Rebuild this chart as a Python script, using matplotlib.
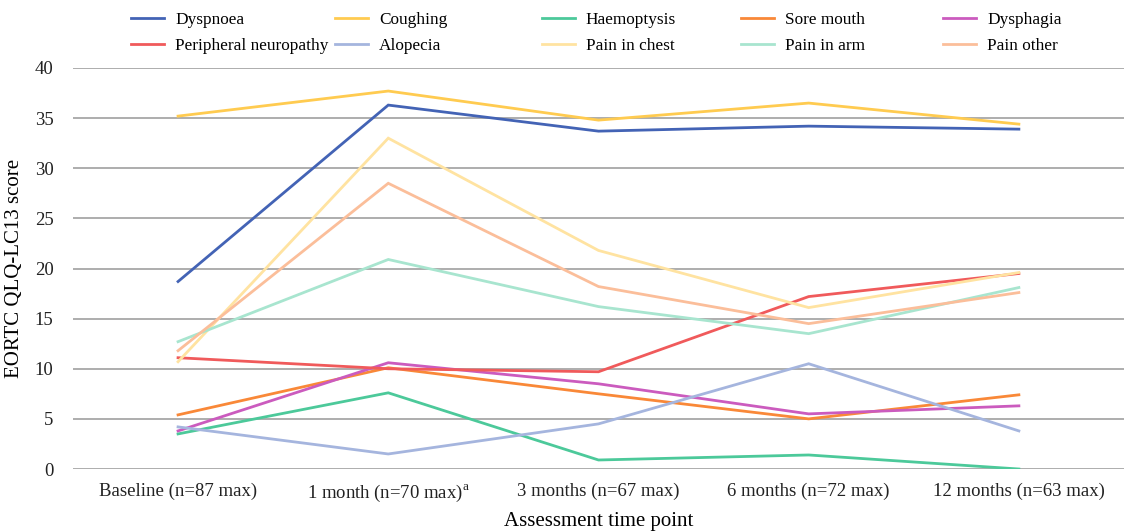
import matplotlib
matplotlib.use("Agg")
import matplotlib.pyplot as plt

plt.rcParams['font.family'] = ['Liberation Serif', 'DejaVu Serif']
plt.rcParams['mathtext.fontset'] = 'custom'
plt.rcParams['mathtext.rm'] = 'Liberation Serif'

# time points
timepoints = ['Baseline (n=87 max)', '1 month (n=70 max)$^{\\mathrm{a}}$',
              '3 months (n=67 max)', '6 months (n=72 max)', '12 months (n=63 max)']

# mean scores per symptom
dyspnoea = [18.7, 36.3, 33.7, 34.2, 33.9]
coughing = [35.2, 37.7, 34.8, 36.5, 34.4]
haemoptysis = [3.5, 7.6, 0.9, 1.4, 0.0]
sore_mouth = [5.4, 10.1, 7.5, 5.0, 7.4]
dysphagia = [3.8, 10.6, 8.5, 5.5, 6.3]
peripheral_neuropathy = [11.1, 10.0, 9.7, 17.2, 19.5]
alopecia = [4.2, 1.5, 4.5, 10.5, 3.8]
pain_in_chest = [10.7, 33.0, 21.8, 16.1, 19.6]
pain_in_arm = [12.7, 20.9, 16.2, 13.5, 18.1]
pain_other = [11.8, 28.5, 18.2, 14.5, 17.6]

series = [
    ('Dyspnoea', dyspnoea, '#4363B5'),
    ('Coughing', coughing, '#FFCB50'),
    ('Haemoptysis', haemoptysis, '#4CC99A'),
    ('Sore mouth', sore_mouth, '#F98838'),
    ('Dysphagia', dysphagia, '#CB5BBE'),
    ('Peripheral neuropathy', peripheral_neuropathy, '#F05A5B'),
    ('Alopecia', alopecia, '#A5B5DE'),
    ('Pain in chest', pain_in_chest, '#FFE3A1'),
    ('Pain in arm', pain_in_arm, '#A8E5CF'),
    ('Pain other', pain_other, '#FBBE9A'),
]

fig = plt.figure(figsize=(11.31, 5.32), dpi=100)
ax = fig.add_axes([0.0645, 0.1184, 0.9293, 0.7538])

x = range(len(timepoints))
handles = []
for name, vals, col in series:
    h, = ax.plot(x, vals, color=col, lw=2.0, label=name, solid_joinstyle='miter')
    handles.append(h)

ax.set_xlim(-0.5, len(timepoints) - 0.5)
ax.set_ylim(0, 40)
ax.set_yticks(range(0, 41, 5))
ax.set_xticks(list(x))
ax.set_xticklabels(timepoints)
ax.yaxis.grid(True, color='#A0A0A0', lw=1.2)
ax.set_axisbelow(True)
for s in ax.spines.values():
    s.set_visible(False)
ax.tick_params(length=0, labelsize=13.5, colors='#222222')
ax.tick_params(axis='x', pad=10)
ax.tick_params(axis='y', pad=14)
ax.set_ylabel('EORTC QLQ-LC13 score', fontsize=15, labelpad=8)
ax.set_xlabel('Assessment time point', fontsize=15, labelpad=6)

# legend: five columns of two entries each
col_x = [0.110, 0.290, 0.473, 0.649, 0.828]
for i, cx in enumerate(col_x):
    pair = [handles[i], handles[i + 5]]
    fig.legend(pair, [h.get_label() for h in pair], loc='upper left',
               bbox_to_anchor=(cx, 0.990), frameon=False, fontsize=12.4,
               handlelength=1.9, handletextpad=0.65, labelspacing=0.58,
               borderaxespad=0)

fig.savefig('out.png', dpi=100)
